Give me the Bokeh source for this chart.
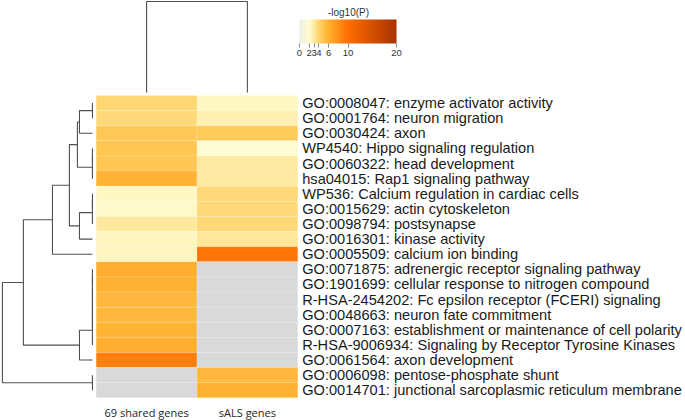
import numpy as np
from bokeh.plotting import figure
from bokeh.models import (ColumnDataSource, LinearColorMapper, ColorBar, FixedTicker, Range1d,
                          AllLabels, Label)
from bokeh.embed import file_html
from bokeh.resources import INLINE
from bokeh.core.properties import value

# ---- enrichment terms (rows, top to bottom) ----
terms = [
    "GO:0008047: enzyme activator activity",
    "GO:0001764: neuron migration",
    "GO:0030424: axon",
    "WP4540: Hippo signaling regulation",
    "GO:0060322: head development",
    "hsa04015: Rap1 signaling pathway",
    "WP536: Calcium regulation in cardiac cells",
    "GO:0015629: actin cytoskeleton",
    "GO:0098794: postsynapse",
    "GO:0016301: kinase activity",
    "GO:0005509: calcium ion binding",
    "GO:0071875: adrenergic receptor signaling pathway",
    "GO:1901699: cellular response to nitrogen compound",
    "R-HSA-2454202: Fc epsilon receptor (FCERI) signaling",
    "GO:0048663: neuron fate commitment",
    "GO:0007163: establishment or maintenance of cell polarity",
    "R-HSA-9006934: Signaling by Receptor Tyrosine Kinases",
    "GO:0061564: axon development",
    "GO:0006098: pentose-phosphate shunt",
    "GO:0014701: junctional sarcoplasmic reticulum membrane",
]

# gene lists (columns)
gene_lists = ["69 shared genes", "sALS genes"]

# -log10(P) per term; nan = not enriched
nan = float("nan")
shared_logp = [3.9, 3.8, 4.7, 4.8, 4.8, 5.9, 2.3, 2.2, 3.0, 2.4,
               2.4, 6.1, 6.0, 5.6, 5.6, 5.8, 6.1, 9.0, nan, nan]
sals_logp = [2.3, 2.7, 4.6, 2.1, 3.0, 3.0, 3.8, 3.8, 3.8, 3.2,
             9.5, nan, nan, nan, nan, nan, nan, nan, 5.6, 6.0]

# colour scale
cbar_title = "-log10(P)"
cbar_ticks = [0, 2, 3, 4, 6, 10, 20]
cbar_colors = ["#efefe6", "#fffcd2", "#ffe9a0", "#ffd46a", "#ffb030", "#ff6e00", "#a83200"]

# row clustering: (child a, child b, height); ids >= 20 refer to earlier merges
row_merges = [
    (0, 1, 0.0), (20, 2, 0.144),
    (3, 4, 0.0), (22, 5, 0.0),
    (21, 23, 0.167),
    (6, 7, 0.0), (25, 8, 0.0), (26, 9, 0.144),
    (24, 27, 0.256),
    (28, 10, 0.444),
    (11, 12, 0.0), (30, 13, 0.0), (31, 14, 0.0), (32, 15, 0.0), (33, 16, 0.0),
    (34, 17, 0.144),
    (29, 35, 0.767),
    (18, 19, 0.0),
    (36, 37, 1.0),
]
# column clustering height
col_merge_height = 1.0


def hex_rgb(h):
    h = h.lstrip("#")
    return np.array([int(h[i:i + 2], 16) for i in (0, 2, 4)], dtype=float)


def build_palette(n=256):
    stops = np.array(cbar_ticks, dtype=float)
    rgb = np.array([hex_rgb(c) for c in cbar_colors])
    vals = np.linspace(stops[0], stops[-1], n)
    out = []
    for v in vals:
        chan = [np.interp(v, stops, rgb[:, k]) for k in range(3)]
        out.append("#%02x%02x%02x" % tuple(int(round(c)) for c in chan))
    return out


mapper = LinearColorMapper(palette=build_palette(), low=cbar_ticks[0], high=cbar_ticks[-1],
                           nan_color="#d9d9d9")

n_rows, n_cols = len(terms), len(gene_lists)

p = figure(width=685, height=420, output_backend="svg", toolbar_location=None,
           x_range=Range1d(-0.949, 5.846), y_range=Range1d(21.50, -6.285),
           x_axis_location=None, y_axis_location=None, min_border=0)
p.grid.visible = False
p.outline_line_color = None
p.background_fill_color = "white"

# ---- heatmap cells ----
xs, ys, zs = [], [], []
for j, col in enumerate([shared_logp, sals_logp]):
    for i, v in enumerate(col):
        xs.append(j + 0.5)
        ys.append(i + 0.5)
        zs.append(v)
cells = ColumnDataSource(dict(x=xs, y=ys, z=np.array(zs, dtype=float)))
p.rect(x="x", y="y", width=1, height=1, source=cells,
       fill_color={"field": "z", "transform": mapper},
       line_color="white", line_alpha=0.25, line_width=0.6)

# ---- row labels ----
p.text(x=[n_cols + 0.044] * n_rows, y=[i + 0.5 for i in range(n_rows)], text=terms,
       text_font=value("Liberation Sans"), text_font_size="14.6px", text_color="#1a1a1a",
       text_baseline="middle", text_align="left")

# ---- column labels ----
p.text(x=[j + 0.5 for j in range(n_cols)], y=[n_rows + 0.98] * n_cols, text=gene_lists,
       text_font=value("Open Sans"), text_font_size="11px", text_color="#262626",
       text_baseline="middle", text_align="center")

# ---- row dendrogram (leaves on the right, next to the heatmap) ----
leaf_x = -0.037
row_scale = 0.893
pos = {i: (i + 0.5, 0.0) for i in range(n_rows)}
seg_x, seg_y = [], []
for k, (a, b, h) in enumerate(row_merges):
    ya, ha = pos[a]
    yb, hb = pos[b]
    xa, xb, xh = leaf_x - ha * row_scale, leaf_x - hb * row_scale, leaf_x - h * row_scale
    seg_x.append([xa, xh, xh, xb])
    seg_y.append([ya, ya, yb, yb])
    pos[n_rows + k] = ((ya + yb) / 2.0, h)
p.multi_line(xs=seg_x, ys=seg_y, line_color="#505050", line_width=1.1)

# ---- column dendrogram ----
leaf_y = -0.2
col_scale = 6.02
top = leaf_y - col_merge_height * col_scale
p.line(x=[0.5, 0.5, 1.5, 1.5], y=[leaf_y, top, top, leaf_y], line_color="#505050", line_width=1.1)

# ---- colour bar ----
cb = ColorBar(color_mapper=mapper, orientation="horizontal", width=97, height=24,
              location=(299, 362), padding=0, ticker=FixedTicker(ticks=cbar_ticks),
              major_label_policy=AllLabels(),
              major_label_text_font_size="9.5px", major_label_text_color="#333333",
              major_label_text_font="Liberation Sans",
              major_tick_in=0, major_tick_out=4, major_tick_line_color="#888888",
              bar_line_color=None, border_line_color=None, background_fill_alpha=0,
              label_standoff=2)
p.add_layout(cb)

# colour bar title, centred over the bar (bar spans x 299..396 px)
p.add_layout(Label(x=2.503, y=-5.49, text=cbar_title, text_align="center",
                   text_baseline="middle", text_font_size="10px", text_color="#333333",
                   text_font="Liberation Sans"))

open("out.html", "w").write(file_html(p, INLINE))
